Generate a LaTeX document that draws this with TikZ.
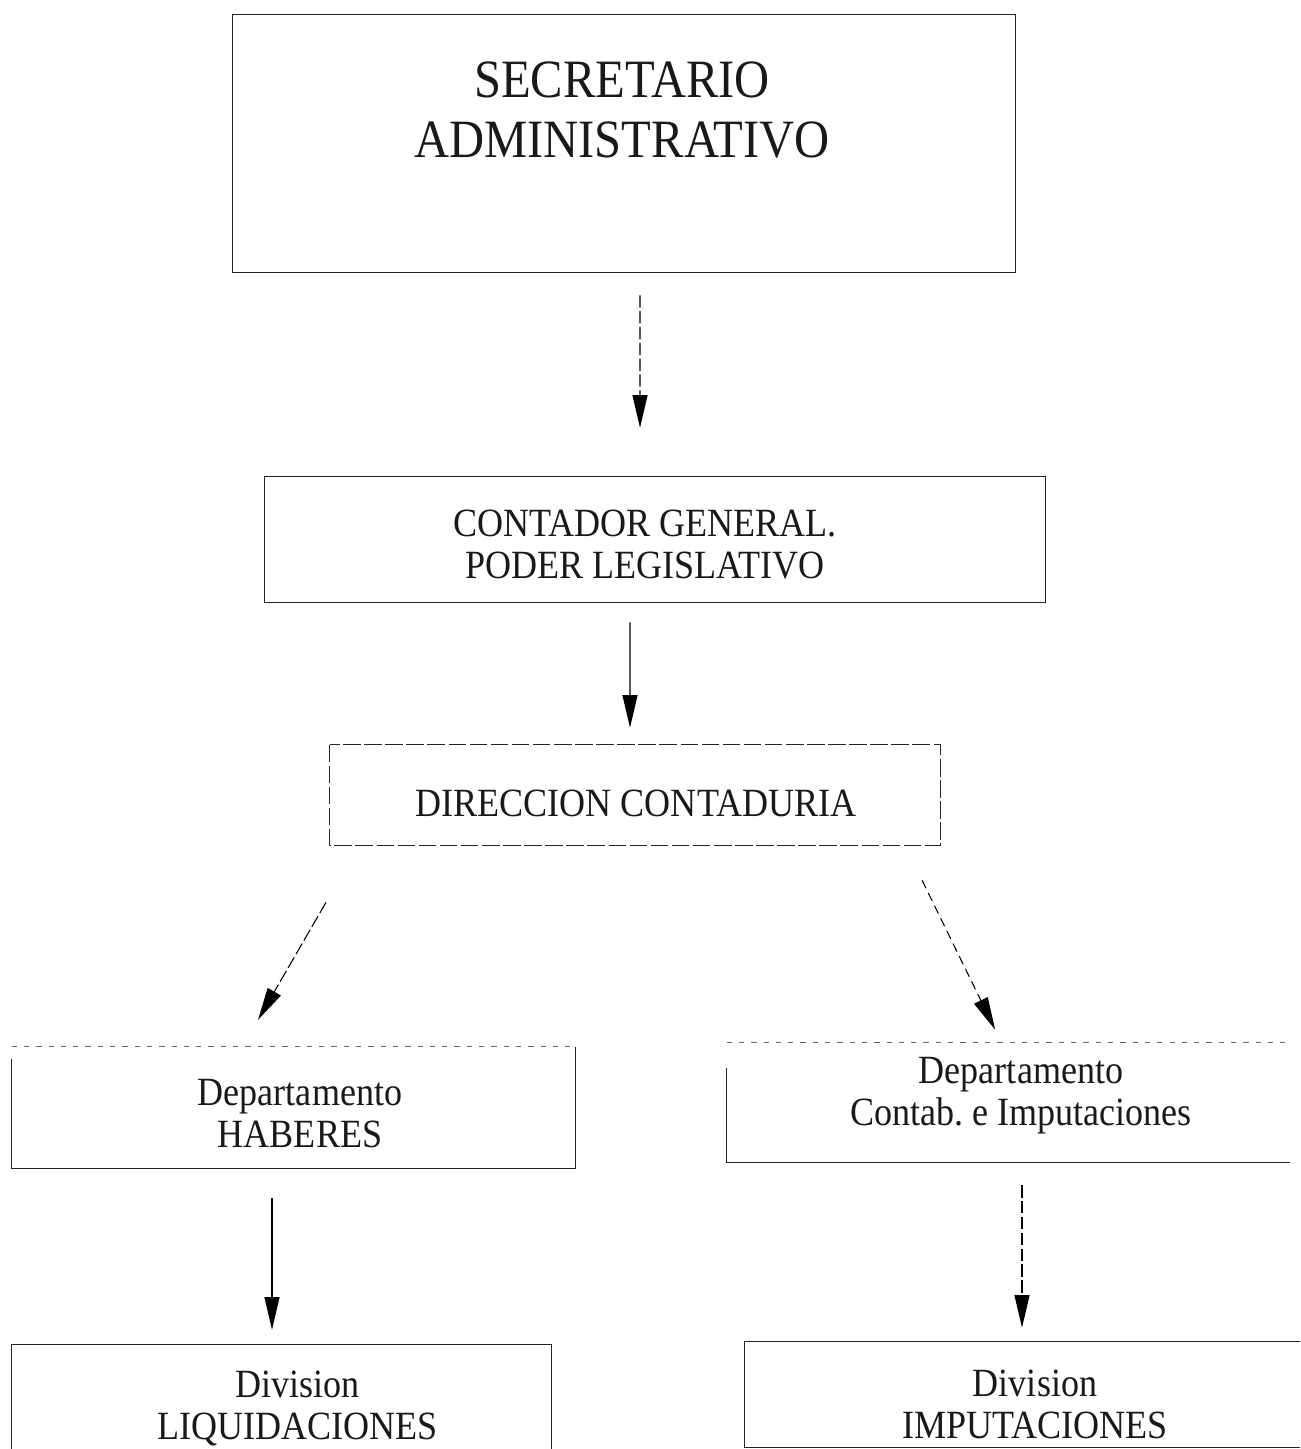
\documentclass[tikz,border=0pt]{standalone}
\usepackage{fontspec}
\setmainfont{Liberation Serif}[FakeStretch=0.9]
\usetikzlibrary{arrows.meta}
\begin{document}
\begin{tikzpicture}[
  box/.style={rectangle, inner sep=0pt},
  edge/.style={draw=black!85, line width=0.6pt},
  faint/.style={draw=black!60, line width=0.5pt, dash pattern=on 3pt off 4pt},
  lbl/.style={align=center, inner sep=0pt, text=black!90, font=\fontsize{22.8pt}{23.9pt}\selectfont},
  biglbl/.style={align=center, inner sep=0pt, text=black!90, font=\fontsize{30.7pt}{34.1pt}\selectfont},
  arr/.style={draw=black, line width=0.6pt, -{Triangle[length=6.5mm,width=3mm]}},
  dsh/.style={dash pattern=on 7pt off 2pt}
]
\useasboundingbox (0,0) rectangle (26,-28.98);
% boxes (shapes only)
\node[box, minimum width=15.64cm, minimum height=5.14cm] (sec) at (12.48,-2.87) {};
\node[box, minimum width=15.60cm, minimum height=2.50cm] (cont) at (13.10,-10.79) {};
\node[box, minimum width=12.20cm, minimum height=2.00cm] (dir) at (12.70,-15.90) {};
\node[box, minimum width=11.26cm, minimum height=2.42cm] (hab) at (5.87,-22.15) {};
\node[box, minimum width=11.26cm, minimum height=2.38cm] (ctb) at (20.17,-22.05) {};
\node[box, minimum width=10.78cm, minimum height=2.70cm] (liq) at (5.63,-28.25) {};
\node[box, minimum width=11.10cm, minimum height=2.10cm] (imp) at (20.45,-27.89) {};
% outlines
\draw[edge] (sec.north west) rectangle (sec.south east);
\draw[edge] (cont.north west) rectangle (cont.south east);
\draw[edge, dash pattern=on 10pt off 2pt] (dir.north west) rectangle (dir.south east);
\draw[faint] (hab.north west) -- (hab.north east);
\draw[edge] (hab.north east) -- (hab.south east) -- (hab.south west) -- ([yshift=-0.25cm]hab.north west);
\draw[faint] (ctb.north west) -- (ctb.north east);
\draw[edge] ([yshift=-0.5cm]ctb.north west) -- (ctb.south west) -- (ctb.south east);
\draw[edge] (liq.south west) -- (liq.north west) -- (liq.north east) -- (liq.south east);
\draw[edge] (imp.north east) -- (imp.north west) -- (imp.south west) -- (imp.south east);
% texts
\node[biglbl] (secT) at (12.44,-2.20) {SECRETARIO\\ADMINISTRATIVO};
\node[lbl] (contT) at (12.90,-10.90) {CONTADOR GENERAL.\\PODER LEGISLATIVO};
\node[lbl] (dirT) at (12.72,-16.06) {DIRECCION CONTADURIA};
\node[lbl] (habT) at (6.00,-22.28) {Departamento\\HABERES};
\node[lbl] (ctbT) at (20.42,-21.92) {Departamento\\Contab.\ e Imputaciones};
\node[lbl] (liqT) at (5.95,-28.16) {Division\\LIQUIDACIONES};
\node[lbl] (impT) at (20.70,-28.08) {Division\\IMPUTACIONES};
% connectors
\draw[arr, dsh, shorten <=0.46cm, shorten >=0.98cm] ([xshift=0.32cm]sec.south) -- ([xshift=-0.30cm]cont.north);
\draw[arr, shorten <=0.40cm, shorten >=0.34cm] ([xshift=-0.50cm]cont.south) -- ([xshift=-0.10cm]dir.north);
\draw[arr, dsh, shorten <=1.32cm, shorten >=0.62cm] ([xshift=-5.52cm]dir.south) -- ([xshift=-1.02cm]hab.north);
\draw[arr, dash pattern=on 5pt off 3pt, shorten <=0.78cm, shorten >=0.29cm] ([xshift=5.40cm]dir.south) -- ([xshift=-0.14cm]ctb.north);
\draw[arr, shorten <=0.60cm, shorten >=0.30cm] ([xshift=-0.43cm]hab.south) -- ([xshift=-0.19cm]liq.north);
\draw[arr, dsh, shorten <=0.46cm, shorten >=0.28cm] ([xshift=0.27cm]ctb.south) -- ([xshift=-0.01cm]imp.north);
\end{tikzpicture}
\end{document}
